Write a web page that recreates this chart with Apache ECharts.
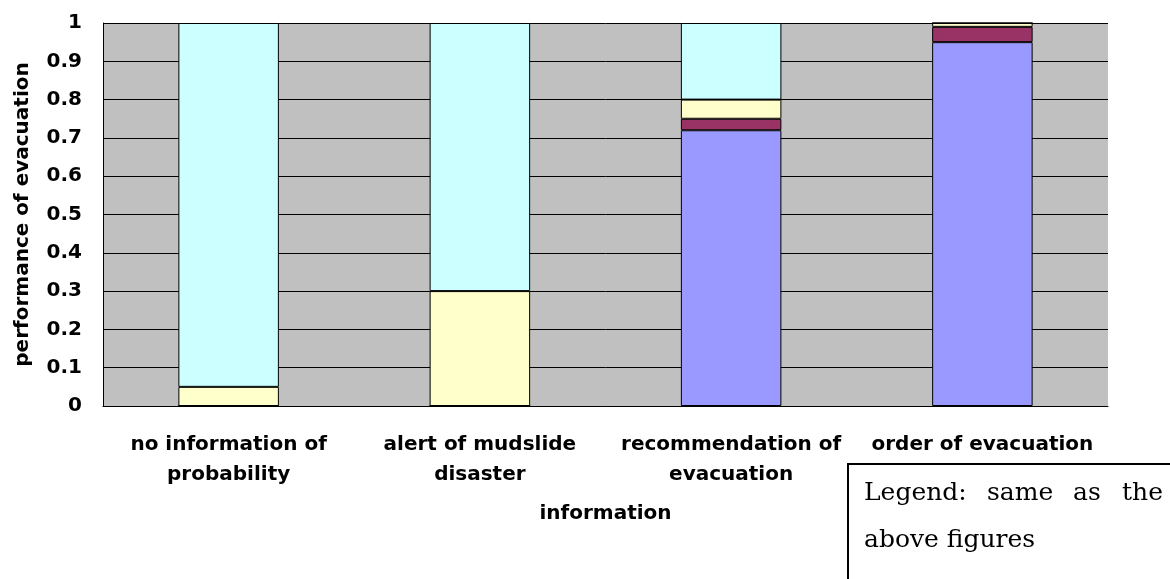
<!DOCTYPE html>
<html>
<head>
<meta charset="utf-8">
<script src="https://cdn.jsdelivr.net/npm/echarts@6/dist/echarts.min.js"></script>
<style>html,body{margin:0;padding:0;background:#fff}#c{width:1170px;height:579px}</style>
</head>
<body>
<div id="c"></div>
<script>
const categories = ['no information of\nprobability', 'alert of mudslide\ndisaster', 'recommendation of\nevacuation', 'order of evacuation'];
const yTicks = [0, 0.1, 0.2, 0.3, 0.4, 0.5, 0.6, 0.7, 0.8, 0.9, 1];
const seriesBlue = [0, 0, 0.72, 0.95];
const seriesMaroon = [0, 0, 0.03, 0.04];
const seriesYellow = [0.05, 0.3, 0.05, 0.01];
const seriesCyan = [0.95, 0.7, 0.2, 0];
const xTitle = 'information';
const yTitle = 'performance of evacuation';
const noteWords1 = ['Legend:', 'same', 'as', 'the'];
const noteLine2 = 'above figures';

const font = '"DejaVu Sans", sans-serif';
const serif = '25px "DejaVu Serif", serif';
const chart = echarts.init(document.getElementById('c'), null, {renderer: 'canvas'});
function mk(name, data, color) {
  return {
    name: name, type: 'bar', stack: 'total', data: data,
    barCategoryGap: '60%',
    itemStyle: {color: color, borderColor: '#000', borderWidth: 1},
    emphasis: {disabled: true}
  };
}
const wordX = [864, 987, 1073, 1122];
const graphics = [
  {type: 'rect', left: 847, top: 463, shape: {width: 340, height: 140}, style: {fill: '#fff', stroke: '#000', lineWidth: 2}, z: 10}
];
noteWords1.forEach(function (w, i) {
  graphics.push({type: 'text', x: wordX[i], y: 493, style: {text: w, font: serif, fill: '#000', verticalAlign: 'middle'}, z: 11});
});
graphics.push({type: 'text', x: 864, y: 540, style: {text: noteLine2, font: serif, fill: '#000', verticalAlign: 'middle'}, z: 11});

chart.setOption({
  animation: false,
  grid: {left: 103, right: 62, top: 23, bottom: 173, show: true, backgroundColor: '#C0C0C0', borderWidth: 0},
  xAxis: {
    type: 'category', data: categories,
    name: xTitle, nameLocation: 'middle', nameGap: 98,
    nameTextStyle: {fontFamily: font, fontWeight: 'bold', fontSize: 20, color: '#000'},
    axisLine: {lineStyle: {color: '#000', width: 1}},
    axisTick: {inside: true, length: 5, lineStyle: {color: '#000'}},
    axisLabel: {fontFamily: font, fontWeight: 'bold', fontSize: 20, color: '#000', lineHeight: 30, margin: 24, interval: 0}
  },
  yAxis: {
    type: 'value', min: yTicks[0], max: yTicks[yTicks.length - 1], interval: 0.1,
    name: yTitle, nameLocation: 'middle', nameGap: 70,
    nameTextStyle: {fontFamily: font, fontWeight: 'bold', fontSize: 20, color: '#000'},
    axisLine: {show: true, lineStyle: {color: '#000', width: 1}},
    axisTick: {show: true, inside: true, length: 6, lineStyle: {color: '#000'}},
    axisLabel: {fontFamily: font, fontWeight: 'bold', fontSize: 20, color: '#000', margin: 21},
    splitLine: {show: true, lineStyle: {color: '#000', width: 1}}
  },
  series: [
    mk('s1', seriesBlue, '#9999FF'),
    mk('s2', seriesMaroon, '#993366'),
    mk('s3', seriesYellow, '#FFFFCC'),
    mk('s4', seriesCyan, '#CCFFFF')
  ],
  graphic: graphics
});
</script>
</body>
</html>
